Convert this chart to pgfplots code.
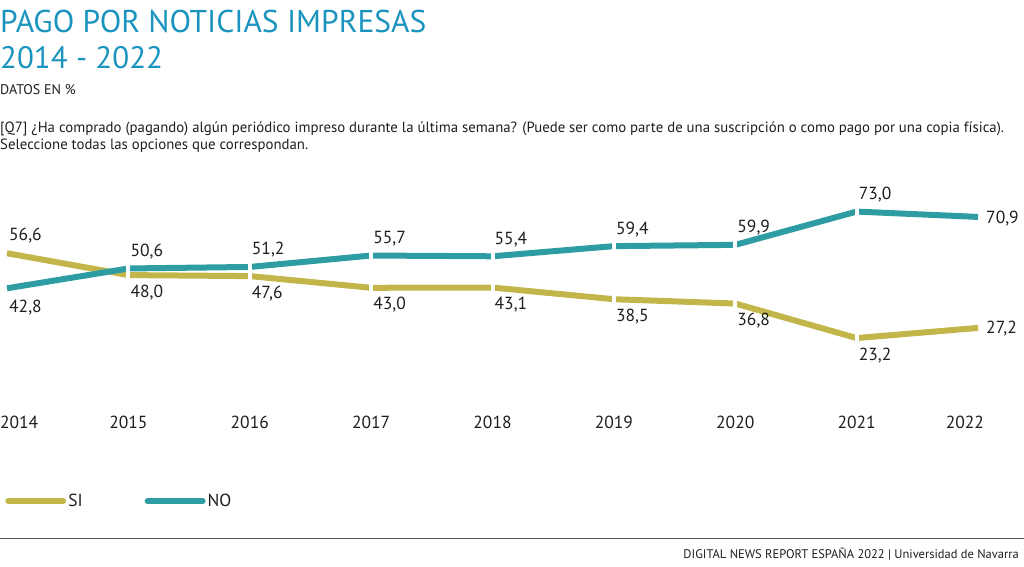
\documentclass[border=0pt]{standalone}
\usepackage{pgfplots}
\usepackage{pgfplotstable}
\pgfplotsset{compat=1.18}
\usepackage{fontspec}
\setmainfont{PT Sans}
\definecolor{titleblue}{HTML}{1A94BF}
\definecolor{siol}{HTML}{C2B64B}
\definecolor{noteal}{HTML}{2E9DA3}
\definecolor{txt}{HTML}{1E1E1E}
\definecolor{rule}{HTML}{555555}

\pgfplotstableread{
year val
2014 56.6
2015 48.0
2016 47.6
2017 43.0
2018 43.1
2019 38.5
2020 36.8
2021 23.2
2022 27.2
}\siTable

\pgfplotstableread{
year val
2014 42.8
2015 50.6
2016 51.2
2017 55.7
2018 55.4
2019 59.4
2020 59.9
2021 73.0
2022 70.9
}\noTable

\newcommand\valfont{\fontsize{17.5}{17.5}\selectfont}

\begin{document}
\begin{tikzpicture}[x=1pt,y=1pt]
\useasboundingbox (0,0) rectangle (1024,566);
% header
\node[anchor=base west, inner sep=0, text=titleblue, font=\fontsize{31.5}{31.5}\selectfont] at (0,{566-33}) {PAGO POR NOTICIAS IMPRESAS};
\node[anchor=base west, inner sep=0, text=titleblue, font=\fontsize{31}{31}\selectfont] at (0,{566-69}) {2014 - 2022};
\node[anchor=base west, inner sep=0, text=txt, font=\fontsize{14}{14}\selectfont] at (0,{566-95}) {DATOS EN \%};
\node[anchor=base west, inner sep=0, text=txt, font=\fontsize{14.8}{14.8}\selectfont] at (0,{566-133}) {[Q7] ¿Ha comprado (pagando) algún periódico impreso durante la última semana? (Puede ser como parte de una suscripción o como pago por una copia física).};
\node[anchor=base west, inner sep=0, text=txt, font=\fontsize{14.8}{14.8}\selectfont] at (0,{566-149}) {Seleccione todas las opciones que correspondan.};
% footer
\draw[rule, line width=1pt] (0,{566-538}) -- (1024,{566-538});
\node[anchor=base east, inner sep=0, text=txt, font=\fontsize{12.5}{12.5}\selectfont] at (1019,{566-558}) {DIGITAL NEWS REPORT ESPAÑA 2022 | Universidad de Navarra};

\begin{axis}[
  at={(7pt,169pt)}, anchor=south west,
  width=971pt, height=203.2pt, scale only axis,
  xmin=2014, xmax=2022, ymin=0, ymax=80,
  axis line style={draw=none},
  tick style={draw=none},
  ytick=\empty,
  xtick={2014,2015,2016,2017,2018,2019,2020,2021,2022},
  xticklabels={\makebox[0pt][l]{\hspace*{-7pt}2014},2015,2016,2017,2018,2019,2020,2021,\makebox[0pt][r]{2022\hspace*{-6pt}}},
  xticklabel style={anchor=base, yshift=-31pt, inner sep=0pt, font=\valfont, text=txt},
  /pgf/number format/assume math mode=true,
  clip=false,
  legend style={at={(-0.002,-0.512)}, anchor=west, draw=none, fill=none, inner sep=0pt,
     legend columns=2, font=\valfont, text=txt,
     /tikz/every even column/.append style={column sep=60pt}},
  legend image code/.code={\draw[#1, mark=none, line width=6pt, line cap=round] (0pt,0pt) -- (55pt,0pt);},
]
\addplot[siol, line width=6pt] table[x=year, y=val] {\siTable};
\addlegendentry{SI}
\addplot[forget plot, only marks, mark=|, mark size=6pt, restrict x to domain=2015:2021,
  mark options={draw=white, line width=4pt}] table[x=year, y=val] {\siTable};
\addplot[noteal, line width=6pt] table[x=year, y=val] {\noTable};
\addlegendentry{NO}
\addplot[forget plot, only marks, mark=|, mark size=6pt, restrict x to domain=2015:2021,
  mark options={draw=white, line width=4pt}] table[x=year, y=val] {\noTable};
% labels
\addplot[forget plot, draw=none, mark=none, point meta=y,
  nodes near coords={\pgfmathprintnumber[fixed,fixed zerofill,precision=1,use comma]{\pgfplotspointmeta}},
  every node near coord/.style={anchor=base west, inner sep=0pt, font=\valfont, text=txt, xshift=2pt},
  coordinate style/.condition={\coordindex==0}{yshift=13pt},
  coordinate style/.condition={\coordindex>0 && \coordindex<8}{yshift=-22pt},
  coordinate style/.condition={\coordindex==8}{xshift=6pt, yshift=-6pt},
] table[x=year, y=val] {\siTable};
\addplot[forget plot, draw=none, mark=none, point meta=y,
  nodes near coords={\pgfmathprintnumber[fixed,fixed zerofill,precision=1,use comma]{\pgfplotspointmeta}},
  every node near coord/.style={anchor=base west, inner sep=0pt, font=\valfont, text=txt, xshift=2pt},
  coordinate style/.condition={\coordindex==0}{yshift=-24pt},
  coordinate style/.condition={\coordindex>0 && \coordindex<8}{yshift=12pt},
  coordinate style/.condition={\coordindex==8}{xshift=6pt, yshift=-7pt},
] table[x=year, y=val] {\noTable};
\end{axis}
\end{tikzpicture}
\end{document}
